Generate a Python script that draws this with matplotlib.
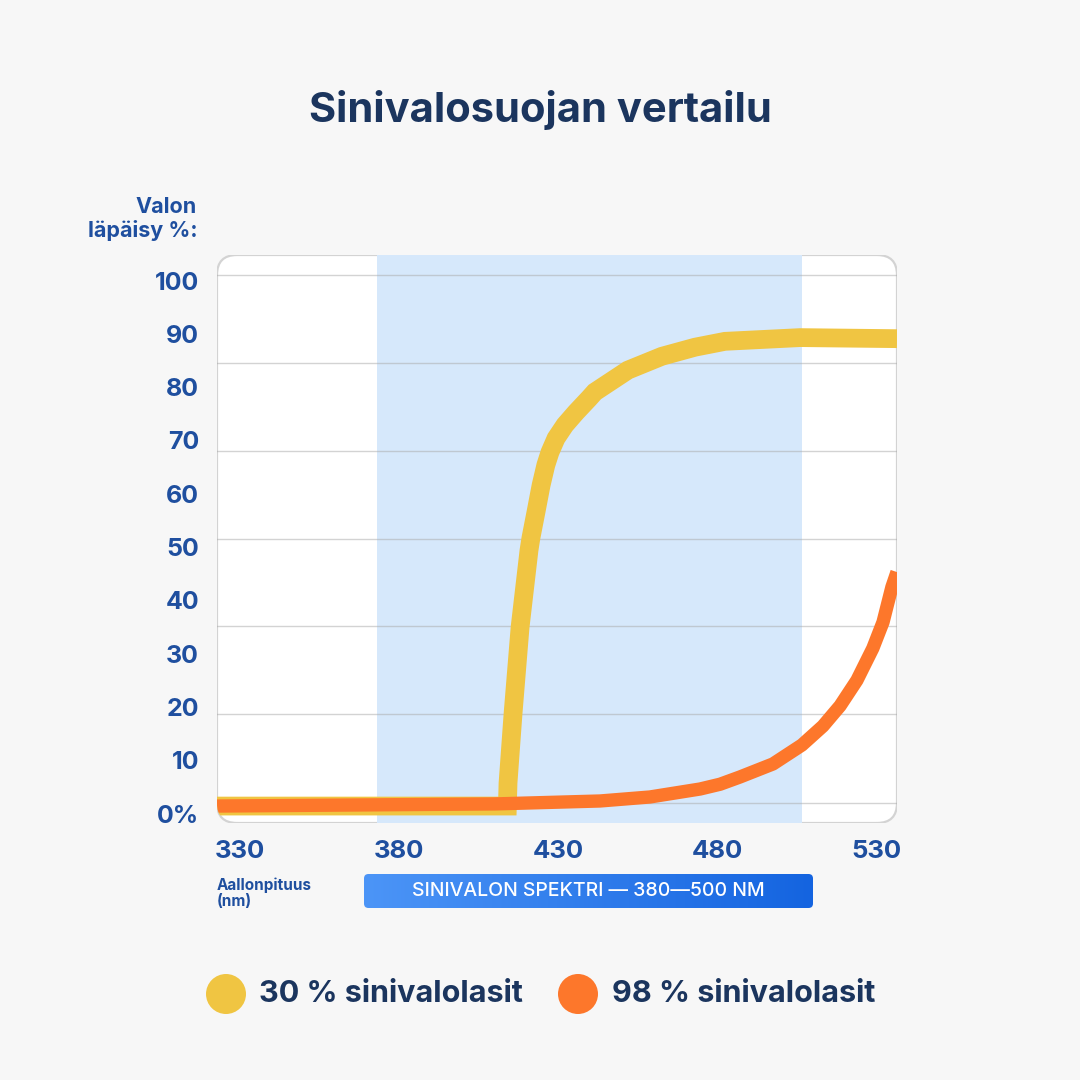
import matplotlib.pyplot as plt
import numpy as np
from matplotlib.patches import FancyBboxPatch, Circle
from matplotlib.colors import LinearSegmentedColormap

# data
wavelength_30 = [322.8, 414.1, 414.3, 415.9, 418.1, 420.9, 421.5, 423.1, 424.7, 426.2,
                 427.5, 429.4, 432.2, 435.7, 439.8, 441.6, 452.0, 462.7, 473.1, 482.5,
                 506.1, 536.6]
transmit_30 = [1.4, 1.4, 5.7, 18.9, 35.0, 49.4, 51.7, 56.6, 61.6, 65.4,
               67.8, 70.4, 72.9, 75.3, 77.9, 79.1, 83.2, 85.8, 87.5, 88.6,
               89.3, 89.1]

wavelength_98 = [322.8, 410.2, 443.2, 458.9, 474.7, 481.0, 487.2, 497.6, 506.7, 513.3,
                 518.7, 524.0, 529.0, 532.2, 535.0, 536.6]
transmit_98 = [1.4, 1.8, 2.35, 3.1, 4.6, 5.5, 6.85, 9.3, 12.85, 16.4,
               20.2, 25.0, 31.0, 35.9, 42.5, 45.3]

series_names = ['30 % sinivalolasit', '98 % sinivalolasit']
y_ticks = [0, 10, 20, 30, 40, 50, 60, 70, 80, 90, 100]
y_ticklabels = ['0%', '10', '20', '30', '40', '50', '60', '70', '80', '90', '100']
x_ticks = [330, 380, 430, 480, 530]
grid_levels = [2.06, 18.6, 35.1, 51.6, 68.1, 84.6, 101.1]
band = (373.1, 506.7)

navy = '#1b355e'
blue = '#1f4f9f'
yellow = '#f0c542'
orange = '#fd772b'
bg = '#f7f7f7'

plt.rcParams['font.family'] = ['Inter', 'DejaVu Sans']

fig = plt.figure(figsize=(10.8, 10.8), dpi=100, facecolor=bg)
W = 1080.0

ax = fig.add_axes([217 / W, 1 - 823 / W, 680 / W, 568 / W])
ax.set_facecolor('none')
for s in ax.spines.values():
    s.set_visible(False)

box = FancyBboxPatch((0, 0), 1, 1, boxstyle='round,pad=0,rounding_size=0.0294',
                     mutation_aspect=680 / 568, transform=ax.transAxes,
                     facecolor='white', edgecolor='#d3d3d3', linewidth=1.6, zorder=0)
ax.add_patch(box)

clip = FancyBboxPatch((0, 0), 1, 1, boxstyle='round,pad=0,rounding_size=0.0294',
                      mutation_aspect=680 / 568, transform=ax.transAxes,
                      facecolor='none', edgecolor='none')
ax.add_patch(clip)

span = ax.axvspan(band[0], band[1], color='#d6e8fb', zorder=1, linewidth=0)
span.set_clip_path(clip)

for g in grid_levels:
    ax.axhline(g, color='#a9a9a9', alpha=0.5, linewidth=1.0, zorder=2)

l1, = ax.plot(wavelength_30, transmit_30, color=yellow, linewidth=13.5,
              solid_joinstyle='miter', solid_capstyle='butt', zorder=3)
l2, = ax.plot(wavelength_98, transmit_98, color=orange, linewidth=9.6,
              solid_joinstyle='round', solid_capstyle='butt', zorder=4)
l1.set_clip_path(clip)
l2.set_clip_path(clip)

ax.set_xlim(322.8, 536.6)
ax.set_ylim(-1.78, 104.8)

ax.set_yticks(y_ticks)
ax.set_yticklabels(y_ticklabels, fontsize=18, fontweight='bold', color=blue)
ax.set_xticks(x_ticks)
ax.set_xticklabels([str(v) for v in x_ticks], fontsize=18.5, fontweight='bold', color=blue)
ax.tick_params(axis='y', length=0, pad=13)
ax.tick_params(axis='x', length=0, pad=12)

# texts
fig.text(0.5, 1 - 110 / W, 'Sinivalosuojan vertailu', ha='center', va='center',
         fontsize=30, fontweight='bold', color=navy)
fig.text(197 / W, 1 - 219 / W, 'Valon\nläpäisy %:', ha='right', va='center',
         fontsize=15.5, fontweight='bold', color=blue, linespacing=1.15, multialignment='right')
fig.text(217 / W, 1 - 893 / W, 'Aallonpituus\n(nm)', ha='left', va='center',
         fontsize=11, fontweight='bold', color=blue, linespacing=1.1)

# spectrum bar with gradient
bx = fig.add_axes([364 / W, 1 - 908 / W, 449 / W, 34 / W])
bx.set_axis_off()
grad = np.linspace(0, 1, 256).reshape(1, -1)
cmap = LinearSegmentedColormap.from_list('spec', ['#4c95f7', '#1464e0'])
im = bx.imshow(grad, aspect='auto', cmap=cmap, extent=(0, 1, 0, 1))
bclip = FancyBboxPatch((0, 0), 1, 1, boxstyle='round,pad=0,rounding_size=0.01',
                       mutation_aspect=449 / 34, transform=bx.transAxes,
                       facecolor='none', edgecolor='none')
bx.add_patch(bclip)
im.set_clip_path(bclip)
bx.text(0.5, 0.5, 'SINIVALON SPEKTRI — 380—500 NM', ha='center', va='center',
        transform=bx.transAxes, fontsize=14, fontweight='medium', color='white')

# legend
for name, col, cx, tx in [(series_names[0], yellow, 226, 259), (series_names[1], orange, 578, 612)]:
    fig.add_artist(Circle((cx / W, 1 - 994 / W), 20 / W, transform=fig.transFigure,
                          facecolor=col, edgecolor='none'))
    fig.text(tx / W, 1 - 994 / W, name, ha='left', va='center',
             fontsize=22, fontweight='bold', color=navy)

plt.savefig('out.png', dpi=100, facecolor=bg)
